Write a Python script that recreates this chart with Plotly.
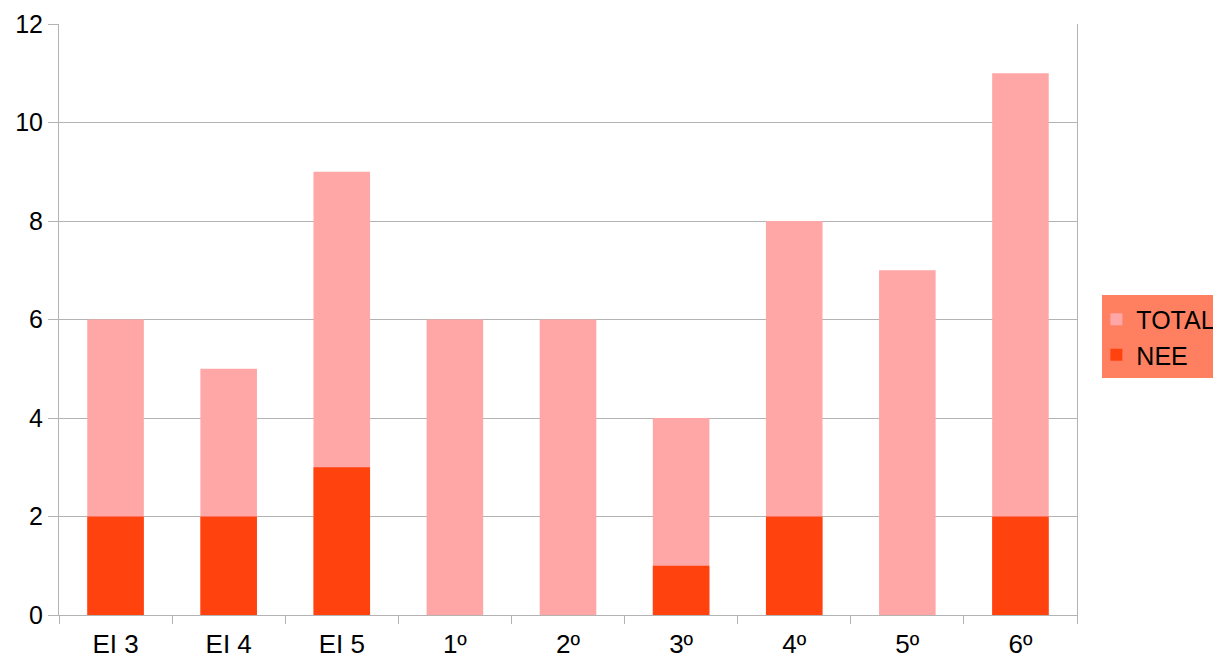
import plotly.graph_objects as go

categories = ["EI 3", "EI 4", "EI 5", "1º", "2º", "3º", "4º", "5º", "6º"]
total = [6, 5, 9, 6, 6, 4, 8, 7, 11]
nee = [2, 2, 3, 0, 0, 1, 2, 0, 2]

fig = go.Figure()
fig.add_trace(go.Bar(x=categories, y=total, name="TOTAL", marker=dict(color="#ffa6a6", line=dict(width=0))))
fig.add_trace(go.Bar(x=categories, y=nee, name="NEE", marker=dict(color="#ff420e", line=dict(width=0))))

# legend background box (page is offset by the 8px body margin)
fig.add_shape(type="rect", xref="paper", yref="paper",
              x0=(1102 - 59) / 1018, x1=1.16, y0=(615 - 378) / 591, y1=(615 - 295) / 591,
              fillcolor="#ff8060", line=dict(width=0), layer="above")

fig.update_layout(
    width=1213, height=651,
    barmode="overlay", bargap=0.5,
    plot_bgcolor="white", paper_bgcolor="white",
    margin=dict(l=51, r=144, t=16, b=44, autoexpand=False),
    font=dict(family="Liberation Sans, Arial, sans-serif", size=26, color="black"),
    showlegend=True,
    legend=dict(x=1.019, y=(615 - 337) / 591, xanchor="left", yanchor="middle",
                bgcolor="rgba(0,0,0,0)", font=dict(size=25), tracegroupgap=0,
                itemwidth=30),
)
fig.update_xaxes(showline=True, linecolor="#b3b3b3", linewidth=1, mirror=False,
                 ticks="outside", tickson="boundaries", ticklen=8, tickcolor="#b3b3b3",
                 showgrid=False, tickfont=dict(size=26), automargin=False,
                 ticklabelstandoff=6)
fig.update_yaxes(range=[0, 12], dtick=2, showline=True, linecolor="#b3b3b3", linewidth=1,
                 mirror=True, ticks="outside", ticklen=10, tickcolor="#b3b3b3",
                 showgrid=True, gridcolor="#b3b3b3", gridwidth=1, zeroline=False,
                 tickfont=dict(size=25), automargin=False)
fig.write_html("out.html")
